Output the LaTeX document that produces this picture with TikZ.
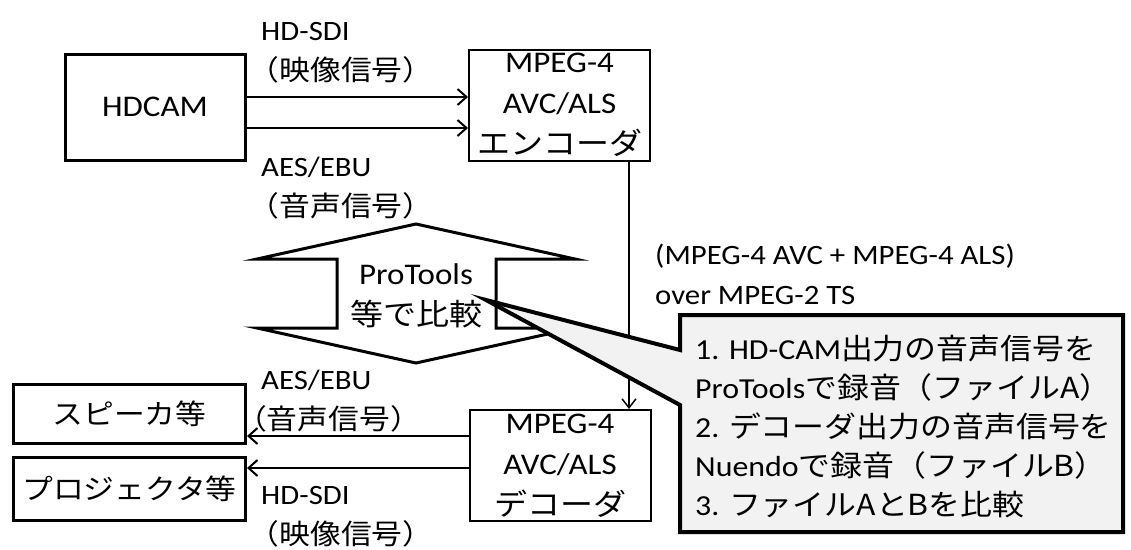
\documentclass[tikz,border=0pt]{standalone}
\usepackage{fontspec}
\setmainfont{Carlito}[FakeStretch=1.1]
\newfontfamily\jp{Noto Sans CJK JP}[FakeStretch=1.1]
\usetikzlibrary{arrows.meta,positioning,calc}
\definecolor{Ink}{HTML}{000000}
\definecolor{NoteFill}{HTML}{F2F2F2}
\newcommand{\boxfont}{\fontsize{30}{41}\selectfont}
\newcommand{\labelfont}{\fontsize{28}{40}\selectfont}
\newcommand{\notefont}{\fontsize{29}{39}\selectfont}
\tikzset{
  devbox/.style={draw=Ink,line width=3pt,align=center,font=\boxfont,text=Ink,inner sep=0pt},
  codecbox/.style={draw=Ink,line width=2pt,align=center,font=\boxfont,text=Ink,inner sep=0pt,minimum width=181pt,minimum height=111pt},
  siglabel/.style={align=left,font=\labelfont,text=Ink,inner sep=0pt,anchor=base west},
  sigline/.style={-{Straight Barb[length=9pt,width=16pt]},draw=Ink,line width=2pt},
  tsline/.style={-{Straight Barb[length=9pt,width=14pt]},draw=Ink,line width=1.5pt},
  cmparrow/.style={draw=Ink,line width=3pt,line join=miter},
  notebox/.style={draw=Ink,fill=NoteFill,line width=4pt,line join=miter}
}

\begin{document}
\begin{tikzpicture}[x=1pt,y=-1pt]
  \useasboundingbox (0,0) rectangle (1131,549);
  % devices
  \node[devbox,minimum width=180pt,minimum height=106pt] (hdcam) at (155,107) {HDCAM};
  \node[codecbox] (enc) at (559.5,105) {MPEG-4\\AVC/ALS\\{\jp エンコーダ}};
  \node[codecbox] (dec) at (560,465.5) {MPEG-4\\AVC/ALS\\{\jp デコーダ}};
  \node[devbox,minimum width=232pt,minimum height=59pt,font=\fontsize{28}{34}\selectfont] (spk) at (129.5,414) {\jp スピーカ等};
  \node[devbox,minimum width=232pt,minimum height=63pt,font=\fontsize{28}{34}\selectfont] (proj) at (129.5,489) {\jp プロジェクタ等};

  % signal lines
  \draw[sigline] ([yshift=10pt]hdcam.east) -- ([yshift=10pt]hdcam.east -| enc.west);
  \draw[sigline] ([yshift=-21pt]hdcam.east) -- ([yshift=-21pt]hdcam.east -| enc.west);
  \draw[tsline] ([xshift=69.5pt]enc.south) -- ([xshift=69.5pt]enc.south |- dec.north);
  \draw[sigline] ([yshift=29.5pt]dec.west) -- ([yshift=29.5pt]dec.west -| spk.east);
  \draw[sigline] ([yshift=-2.5pt]dec.west) -- ([yshift=-2.5pt]dec.west -| proj.east);

  % labels (anchored on the last line)
  \node[siglabel] (sdiin) at (261,80) {HD-SDI\\{\jp\kern-0.45em （映像信号）}};
  \node[siglabel] (aesin) at (261,216) {AES/EBU\\{\jp\kern-0.45em （音声信号）}};
  \node[siglabel] (aesout) at (261,429) {AES/EBU\\{\jp\kern-0.9em （音声信号）}};
  \node[siglabel] (sdiout) at (261,544) {HD-SDI\\{\jp\kern-0.45em （映像信号）}};
  \node[siglabel] (ts) at (655,304) {(MPEG-4 AVC + MPEG-4 ALS)\\over MPEG-2 TS};

  % comparison
  \draw[cmparrow] (416,224) -- (575,259) -- (496,259) -- (496,328) -- (575,328)
    -- (416,363) -- (257,328) -- (337,328) -- (337,259) -- (257,259) -- cycle;
  \node[font=\boxfont,align=center,inner sep=0pt] (cmp) at (416,296) {ProTools\\{\jp 等で比較}};

  % note
  \coordinate (tip) at (486,300);
  \draw[notebox] (680,315) -- (1123,315) -- (1123,532) -- (680,532) -- (680,405)
    -- (tip) -- (680,350) -- cycle;
  \node[font=\notefont,align=left,anchor=base west,inner sep=0pt] (note) at (695,515)
    {1. HD-CAM{\jp 出力の音声信号を}\\ProTools{\jp で録音（ファイルA）}\\2. {\jp デコーダ出力の音声信号を}\\Nuendo{\jp で録音（ファイルB）}\\3. {\jp ファイルAとBを比較}};
\end{tikzpicture}
\end{document}
